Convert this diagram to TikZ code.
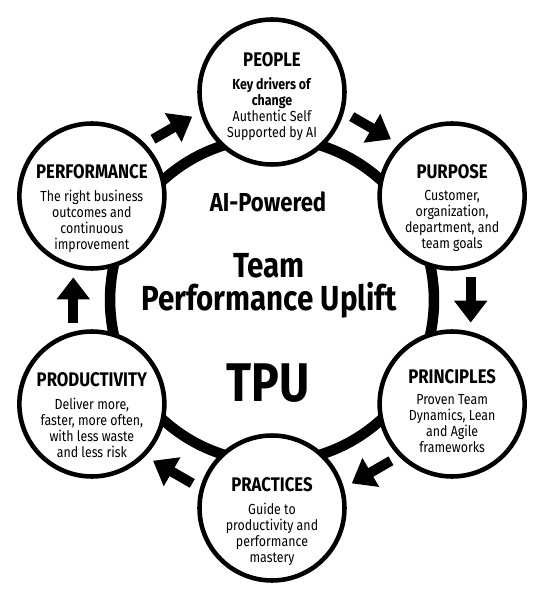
\documentclass[tikz,border=0pt]{standalone}
\usepackage{fontspec}
\setmainfont{Fira Sans}[FakeStretch=0.85]
\usetikzlibrary{arrows.meta}
\usetikzlibrary{calc}
\usetikzlibrary{positioning}

\tikzset{
  stage/.style={circle, draw, line width=2.6pt, fill=white,
    minimum size=2.9cm, inner sep=0pt},
  stagehead/.style={inner sep=0pt, font=\bfseries\fontsize{11.2}{13}\selectfont},
  stagebody/.style={inner sep=0pt, align=center,
    font=\fontsize{8.3}{9.1}\selectfont},
  flow/.style={line width=5.7pt, -{Triangle[length=0.44cm,width=0.64cm]}},
}

\begin{document}
\begin{tikzpicture}[x=0.02cm, y=0.02cm, node distance=0.2cm] % TPU cycle

      \useasboundingbox (-272,-301) rectangle (278,300);

      % big ring
      \draw [line width=6pt] (0,0) circle (3.24cm);

      % six stages
      \node [stage] (people) at (90:208) {};
      \node [stage] (purpose) at (30:208) {};
      \node [stage] (principles) at (-30:208) {};
      \node [stage] (practices) at (-90:208) {};
      \node [stage] (productivity) at (-150:208) {};
      \node [stage] (performance) at (150:208) {};

      \node [stagehead] (people-h) at ($(people)+(0,32)$) {PEOPLE};
      \node [stagebody, below=of people-h] (people-b)
      {\textbf{Key drivers of}\\\textbf{change}\\Authentic Self\\Supported by AI};

      \node [stagehead] (purpose-h) at ($(purpose)+(0,24)$) {PURPOSE};
      \node [stagebody, below=of purpose-h] (purpose-b)
      {Customer,\\organization,\\department, and\\team goals};

      \node [stagehead] (principles-h) at ($(principles)+(0,27)$) {PRINCIPLES};
      \node [stagebody, below=of principles-h] (principles-b)
      {Proven Team\\Dynamics, Lean\\and Agile\\frameworks};

      \node [stagehead] (practices-h) at ($(practices)+(0,23)$) {PRACTICES};
      \node [stagebody, below=of practices-h] (practices-b)
      {Guide to\\productivity and\\performance\\mastery};

      \node [stagehead] (productivity-h) at ($(productivity)+(0,24)$) {PRODUCTIVITY};
      \node [stagebody, below=of productivity-h] (productivity-b)
      {Deliver more,\\faster, more often,\\with less waste\\and less risk};

      \node [stagehead] (performance-h) at ($(performance)+(0,24)$) {PERFORMANCE};
      \node [stagebody, below=of performance-h] (performance-b)
      {The right business\\outcomes and\\continuous\\improvement};

      % arrows between the stages
      \foreach \a [count=\i] in {120,60,0,-60,-120,180} {
        \coordinate (from\i) at ({\a+6.5}:200);
        \coordinate (to\i) at ({\a-6.5}:200);
        \draw [flow] (from\i) -- (to\i);
      }

      % centre
      \node [font=\bfseries\fontsize{14.8}{17}\selectfont] (ai) at (-4,98) {AI-Powered};
      \node [align=center, font=\bfseries\fontsize{19.8}{18.6}\selectfont]
      (tpu-name) at (-3,14) {Team\\Performance Uplift};
      \node [font=\bfseries\fontsize{31}{34}\selectfont] (tpu) at (-4,-83) {TPU};

    \end{tikzpicture}
\end{document}
